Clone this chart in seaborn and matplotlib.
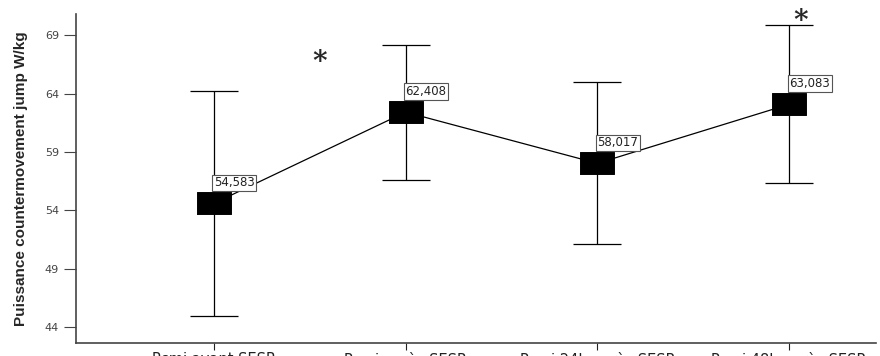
import pandas as pd
import seaborn as sns
import matplotlib.pyplot as plt
from matplotlib.path import Path

# values
categories = ["Pcmi avant SESR", "Pcmi après SESR", "Pcmi 24h après SESR", "Pcmi 48h après SESR"]
means = [54.583, 62.408, 58.017, 63.083]
ci_low = [44.9, 56.6, 51.1, 56.3]
ci_high = [64.2, 68.2, 65.0, 69.9]
mean_labels = ["54,583", "62,408", "58,017", "63,083"]
yticks = [44, 49, 54, 59, 64, 69]

df = pd.DataFrame({"moment": categories, "puissance": means})

sns.set_style("white")
plt.rcParams["font.family"] = ["DejaVu Sans"]

fig, ax = plt.subplots(figsize=(8.8, 3.56), dpi=100)
fig.subplots_adjust(left=0.086, right=0.995, top=0.96, bottom=0.036)

# error bars first so the squares sit on top
err_lo = [m - l for m, l in zip(means, ci_low)]
err_hi = [h - m for m, h in zip(means, ci_high)]
ax.errorbar(range(len(categories)), means, yerr=[err_lo, err_hi], fmt="none",
            ecolor="black", elinewidth=0.9, capsize=17, capthick=0.9, zorder=1)

# the markers are wider than tall in the reference
rect = Path([(-1, -0.64), (1, -0.64), (1, 0.64), (-1, 0.64), (-1, -0.64)])
sns.pointplot(data=df, x="moment", y="puissance", order=categories, errorbar=None,
              color="black", markers=rect, markersize=24.5, linewidth=0.9, ax=ax)

for i, (m, lab) in enumerate(zip(means, mean_labels)):
    ax.annotate(lab, (i, m), xytext=(0, 14), textcoords="offset pixels",
                fontsize=8.5, color="#222222", va="bottom", ha="left",
                bbox=dict(boxstyle="square,pad=0.15", fc="white", ec="#555555", lw=0.8),
                zorder=5)

# significance stars
ax.text(0.55, 66.7, "*", fontsize=20, ha="center", va="center", family="DejaVu Serif",
        fontweight="bold", clip_on=False)
ax.text(3.06, 70.15, "*", fontsize=20, ha="center", va="center", family="DejaVu Serif",
        fontweight="bold", clip_on=False)

ax.set_xlim(-0.72, 3.45)
ax.set_ylim(42.6, 70.8)
ax.set_yticks(yticks)
ax.set_yticklabels([str(t) for t in yticks], fontsize=8, color="#444444")
ax.tick_params(axis="x", labelsize=10.5, colors="#222222", length=5, pad=1)
ax.tick_params(axis="y", length=9, color="#444444", pad=3)
ax.tick_params(bottom=True, left=True)

ax.set_xlabel("")
ax.set_ylabel("Puissance countermovement jump W/kg", fontsize=11,
              family="Liberation Sans", fontweight="bold", labelpad=12)

for side in ["top", "right"]:
    ax.spines[side].set_visible(False)
for side in ["left", "bottom"]:
    ax.spines[side].set_color("#444444")
    ax.spines[side].set_linewidth(1.2)

fig.savefig("out.png", dpi=100)
